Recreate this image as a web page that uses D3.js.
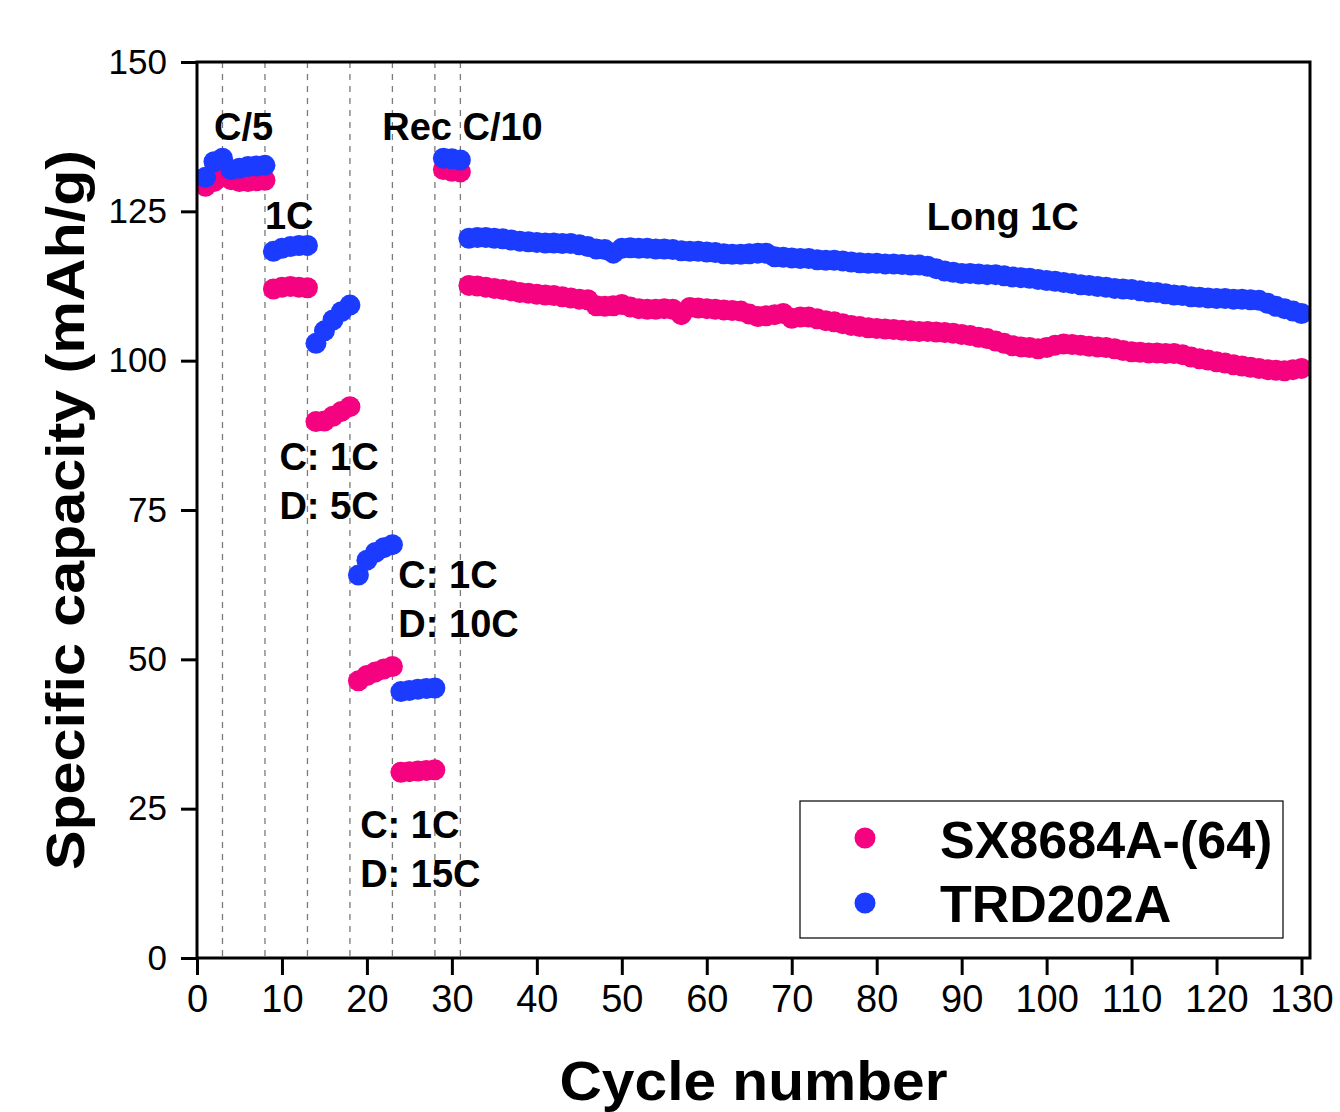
<!DOCTYPE html>
<html>
<head>
    <meta charset="UTF-8">
    <script src="https://d3js.org/d3.v7.min.js"></script>
    <style>
     body { margin: 0; background: #fff; }
     text { font-family: "Liberation Sans", Arial, sans-serif; }
    </style>
</head>

<body>
    <div id="chart"></div>
    <script>
     // capacity (mAh/g) per cycle, cycles 1..130
     const seriesNames = ["SX8684A-(64)", "TRD202A"];
     const seriesColors = ["#f4027f", "#1b3bff"];

     const pinkValues = [
         // C/5 (1-8)
         129.2, 130.0, 131.0, 130.3, 130.0, 130.0, 130.1, 130.2,
         // 1C (9-13)
         112.0, 112.3, 112.4, 112.3, 112.2,
         // C:1C D:5C (14-18)
         89.8, 89.9, 90.7, 91.5, 92.3,
         // C:1C D:10C (19-23)
         46.4, 47.3, 47.9, 48.4, 48.8,
         // C:1C D:15C (24-28)
         31.1, 31.2, 31.3, 31.4, 31.5,
         // Rec C/10 (29-31)
         132.0, 131.7, 131.6,
         // Long 1C (32-130)
         112.6, 112.5, 112.3, 112.1, 111.9, 111.7, 111.4, 111.3, 111.1, 111.0,
         110.9, 110.7, 110.5, 110.3, 110.2, 109.2, 109.1, 109.2, 109.4, 109.0,
         108.7, 108.6, 108.6, 108.7, 108.6, 107.7, 108.9, 108.8, 108.7, 108.6,
         108.5, 108.4, 108.3, 107.8, 107.4, 107.5, 107.7, 107.9, 107.1, 107.3,
         107.3, 107.0, 106.7, 106.5, 106.2, 105.9, 105.7, 105.5, 105.4, 105.3,
         105.2, 105.1, 105.0, 104.9, 104.9, 104.8, 104.7, 104.6, 104.4, 104.2,
         103.9, 103.7, 103.3, 102.9, 102.5, 102.3, 102.2, 102.0, 102.2, 102.6,
         102.8, 102.7, 102.6, 102.4, 102.3, 102.2, 102.0, 101.7, 101.5, 101.4,
         101.3, 101.3, 101.2, 101.2, 101.0, 100.6, 100.3, 100.1, 99.8, 99.6,
         99.3, 99.1, 98.9, 98.7, 98.5, 98.4, 98.3, 98.5, 98.7
     ];

     const blueValues = [
         130.7, 133.3, 133.9, 132.0, 132.2, 132.5, 132.6, 132.7,
         118.3, 118.8, 119.1, 119.3, 119.3,
         102.9, 105.0, 106.8, 108.2, 109.3,
         64.1, 66.6, 67.9, 68.7, 69.2,
         44.6, 44.8, 45.0, 45.1, 45.2,
         133.9, 133.8, 133.6,
         120.5, 120.6, 120.6, 120.5, 120.4, 120.2, 120.0, 119.9, 119.8, 119.7,
         119.7, 119.6, 119.6, 119.4, 119.1, 118.7, 118.6, 118.0, 118.8, 118.9,
         118.8, 118.8, 118.7, 118.7, 118.6, 118.4, 118.3, 118.3, 118.2, 118.1,
         117.9, 117.8, 117.8, 117.9, 118.0, 118.0, 117.4, 117.3, 117.2, 117.1,
         117.1, 116.9, 116.8, 116.8, 116.7, 116.5, 116.4, 116.3, 116.3, 116.2,
         116.2, 116.1, 116.0, 116.0, 115.8, 115.4, 115.0, 114.8, 114.6, 114.6,
         114.5, 114.4, 114.4, 114.2, 114.0, 113.9, 113.8, 113.6, 113.4, 113.3,
         113.1, 112.9, 112.7, 112.6, 112.4, 112.3, 112.1, 112.0, 111.9, 111.7,
         111.5, 111.4, 111.2, 111.0, 110.9, 110.7, 110.6, 110.5, 110.4, 110.4,
         110.3, 110.3, 110.2, 110.1, 109.6, 109.1, 108.7, 108.3, 107.9
     ];

     const stepCycles = [3, 8, 13, 18, 23, 28, 31];
     const xTicks = d3.range(0, 131, 10);
     const yTicks = [0, 25, 50, 75, 100, 125, 150];

     // annotation text anchored at (cycle, capacity) of its first baseline
     const labels = [
         {lines: ["C/5"], x: 2.0, y: 136.9},
         {lines: ["1C"], x: 8.0, y: 122.0},
         {lines: ["Rec C/10"], x: 21.8, y: 136.9},
         {lines: ["C: 1C", "D: 5C"], x: 9.7, y: 81.7},
         {lines: ["C: 1C", "D: 10C"], x: 23.7, y: 61.9},
         {lines: ["C: 1C", "D: 15C"], x: 19.2, y: 20.1},
         {lines: ["Long 1C"], x: 85.9, y: 121.9}
     ];

     const width = 1340, height = 1112;
     const plot = {left: 197, right: 1310, top: 62, bottom: 958};

     const svg = d3.select("#chart").append("svg")
         .attr("width", width)
         .attr("height", height);

     const x = d3.scaleLinear().domain([0, 131]).range([plot.left, plot.right]);
     const y = d3.scaleLinear().domain([0, 150]).range([plot.bottom, plot.top]);

     // dashed separators between rate steps
     svg.append("g")
        .selectAll("line")
        .data(stepCycles)
        .enter()
        .append("line")
        .attr("x1", d => x(d)).attr("x2", d => x(d))
        .attr("y1", plot.top).attr("y2", plot.bottom)
        .attr("stroke", "#7a7a7a")
        .attr("stroke-width", 1.3)
        .attr("stroke-dasharray", "6,6");

     svg.append("clipPath").attr("id", "clip")
        .append("rect")
        .attr("x", plot.left).attr("y", plot.top)
        .attr("width", plot.right - plot.left)
        .attr("height", plot.bottom - plot.top);

     const cycles = d3.range(1, pinkValues.length + 1);
     const allSeries = [pinkValues, blueValues];

     allSeries.forEach(function(vals, i) {
         svg.append("g")
            .attr("clip-path", "url(#clip)")
            .selectAll("circle")
            .data(cycles)
            .enter()
            .append("circle")
            .attr("cx", d => x(d))
            .attr("cy", (d, j) => y(vals[j]))
            .attr("r", 10.5)
            .attr("fill", seriesColors[i]);
     });

     // frame
     svg.append("rect")
        .attr("x", plot.left).attr("y", plot.top)
        .attr("width", plot.right - plot.left)
        .attr("height", plot.bottom - plot.top)
        .attr("fill", "none")
        .attr("stroke", "#000")
        .attr("stroke-width", 3);

     let yAxis = svg.append("g")
        .attr("transform", `translate(${plot.left},0)`)
        .call(d3.axisLeft(y).tickValues(yTicks).tickSize(16).tickPadding(14));
     yAxis.selectAll("text")
        .attr("font-size", 35)
        .attr("font-family", "Liberation Sans, Arial, sans-serif")
        .attr("fill", "#000");

     let xAxis = svg.append("g")
        .attr("transform", `translate(0,${plot.bottom})`)
        .call(d3.axisBottom(x).tickValues(xTicks).tickSize(17).tickPadding(10));
     xAxis.selectAll("text")
        .attr("font-size", 38)
        .attr("font-family", "Liberation Sans, Arial, sans-serif")
        .attr("fill", "#000");

     svg.selectAll(".domain").remove();
     svg.selectAll(".tick line").attr("stroke", "#000").attr("stroke-width", 3);

     // annotations
     labels.forEach(function(l) {
         let t = svg.append("text")
            .attr("x", x(l.x))
            .attr("y", y(l.y))
            .attr("font-size", 38)
            .attr("font-weight", "bold");
         l.lines.forEach(function(s, k) {
             t.append("tspan")
              .attr("x", x(l.x))
              .attr("dy", k == 0 ? 0 : 49)
              .text(s);
         });
     });

     // axis titles
     svg.append("text")
        .attr("transform", `translate(84,${(plot.top + plot.bottom) / 2}) rotate(-90)`)
        .attr("text-anchor", "middle")
        .attr("font-size", 54)
        .attr("font-weight", "bold")
        .attr("textLength", 720)
        .attr("lengthAdjust", "spacingAndGlyphs")
        .text("Specific capacity (mAh/g)");

     svg.append("text")
        .attr("x", (plot.left + plot.right) / 2)
        .attr("y", 1100)
        .attr("text-anchor", "middle")
        .attr("font-size", 56)
        .attr("font-weight", "bold")
        .attr("textLength", 388)
        .attr("lengthAdjust", "spacingAndGlyphs")
        .text("Cycle number");

     // legend
     let legend = svg.append("g");
     legend.append("rect")
        .attr("x", 800).attr("y", 801)
        .attr("width", 483).attr("height", 137)
        .attr("fill", "#fff")
        .attr("stroke", "#000")
        .attr("stroke-width", 1.2);
     seriesNames.forEach(function(name, i) {
         legend.append("circle")
            .attr("cx", 865).attr("cy", 838 + i * 65)
            .attr("r", 10.5)
            .attr("fill", seriesColors[i]);
         legend.append("text")
            .attr("x", 940).attr("y", 858 + i * 64)
            .attr("font-size", 52)
            .attr("font-weight", "bold")
            .text(name);
     });
    </script>
</body>

</html>
